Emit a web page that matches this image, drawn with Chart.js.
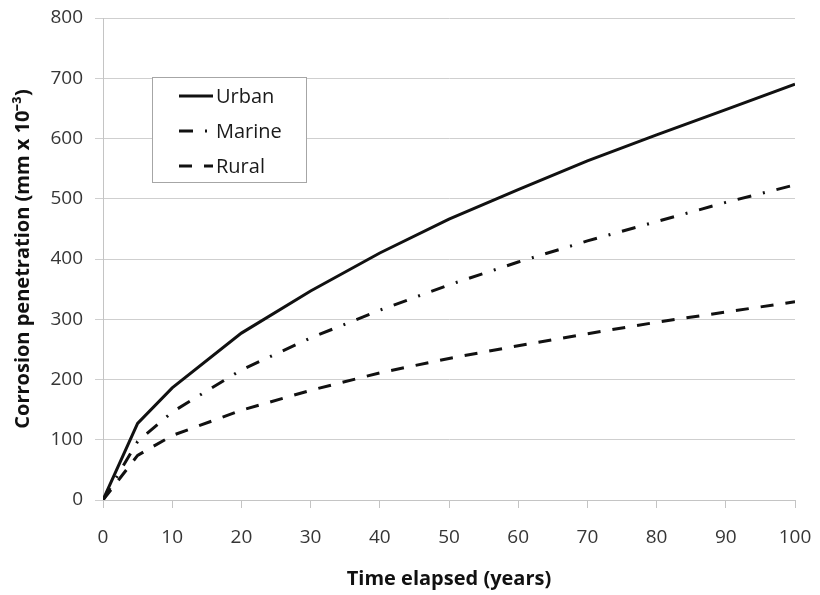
<!DOCTYPE html>
<html>
<head>
<meta charset="utf-8">
<script src="https://cdn.jsdelivr.net/npm/chart.js@4/dist/chart.umd.min.js"></script>
<style>
  html, body { margin: 0; padding: 0; background: #ffffff; }
  #wrap { width: 820px; height: 595px; }
</style>
</head>
<body>
<div id="wrap"><canvas id="chart" width="820" height="595"></canvas></div>
<script>
// Time since exposure (years)
const years  = [0, 5, 10, 20, 30, 40, 50, 60, 70, 80, 90, 100];
// Corrosion penetration (mm x 10^-3) per environment
const urban  = [0, 127, 186, 277, 347, 410, 466, 515, 563, 606, 648, 690];
const marine = [0, 97, 146, 216, 269, 315, 357, 395, 430, 462, 494, 523];
const rural  = [0, 74, 107, 149, 182, 211, 235, 256, 276, 295, 312, 329];

const seriesNames = ['Urban', 'Marine', 'Rural'];
const xTickStep = 10;
const yTickStep = 100;
const xMax = 100;
const yMax = 800;

const FONT = '"Open Sans", "Liberation Sans", sans-serif';
const toPoints = vals => years.map((x, i) => ({ x: x, y: vals[i] }));

const dashStyles = {
  Urban: [],
  Marine: [14, 12, 2, 12],
  Rural: [13, 12]
};

// Boxed legend sitting inside the plot area
const boxLegend = {
  id: 'boxLegend',
  afterDatasetsDraw(chart) {
    const ctx = chart.ctx;
    const left = 152, top = 77, right = 306, bottom = 182;
    ctx.save();
    ctx.fillStyle = '#ffffff';
    ctx.fillRect(left, top, right - left, bottom - top);
    ctx.strokeStyle = '#a6a6a6';
    ctx.lineWidth = 1;
    ctx.strokeRect(left + 0.5, top + 0.5, right - left, bottom - top);
    chart.data.datasets.forEach((ds, i) => {
      const y = 96 + i * 35;
      ctx.beginPath();
      ctx.setLineDash(ds.borderDash || []);
      ctx.strokeStyle = ds.borderColor;
      ctx.lineWidth = ds.borderWidth;
      ctx.moveTo(179, y);
      ctx.lineTo(213, y);
      ctx.stroke();
      ctx.setLineDash([]);
      ctx.fillStyle = '#1a1a1a';
      ctx.font = '20px ' + FONT;
      ctx.textBaseline = 'middle';
      ctx.textAlign = 'left';
      ctx.fillText(ds.label, 216, y + 1);
    });
    ctx.restore();
  }
};

const datasets = [urban, marine, rural].map((vals, i) => ({
  label: seriesNames[i],
  data: toPoints(vals),
  borderColor: '#111111',
  backgroundColor: '#111111',
  borderWidth: 3,
  borderDash: dashStyles[seriesNames[i]],
  borderCapStyle: 'butt',
  pointRadius: 0,
  tension: 0,
  fill: false
}));

new Chart(document.getElementById('chart'), {
  type: 'line',
  data: { datasets: datasets },
  plugins: [boxLegend],
  options: {
    responsive: false,
    devicePixelRatio: 1,
    animation: false,
    layout: { padding: { top: 18, right: 25, left: 0, bottom: 0 } },
    plugins: { legend: { display: false }, tooltip: { enabled: false } },
    scales: {
      x: {
        type: 'linear',
        min: 0,
        max: xMax,
        afterFit: s => { s.height = 95; s.paddingLeft = 0; s.paddingRight = 0; },
        ticks: { stepSize: xTickStep, color: '#363636', padding: 18, maxRotation: 0,
                 font: { family: FONT, size: 19 } },
        grid: { drawOnChartArea: false, drawTicks: true, tickLength: 8, color: '#c4c4c4' },
        border: { color: '#c4c4c4', width: 1 },
        title: { display: true, text: 'Time elapsed (years)', color: '#111111',
                 font: { family: FONT, size: 20, weight: 'bold' }, padding: { top: 0, bottom: 4 } }
      },
      y: {
        min: 0,
        max: yMax,
        afterFit: s => { s.width = 103; s.paddingTop = 0; s.paddingBottom = 0; },
        ticks: { stepSize: yTickStep, color: '#363636', padding: 12,
                 font: { family: FONT, size: 19 } },
        grid: { color: '#cfcfcf', tickLength: 8, lineWidth: 1 },
        border: { color: '#c4c4c4', width: 1 },
        title: { display: true, text: 'Corrosion penetration (mm x 10\u207B\u00B3)', color: '#111111',
                 font: { family: FONT, size: 20, weight: 'bold' }, padding: { top: 11, bottom: 0 } }
      }
    }
  }
});
</script>
</body>
</html>
